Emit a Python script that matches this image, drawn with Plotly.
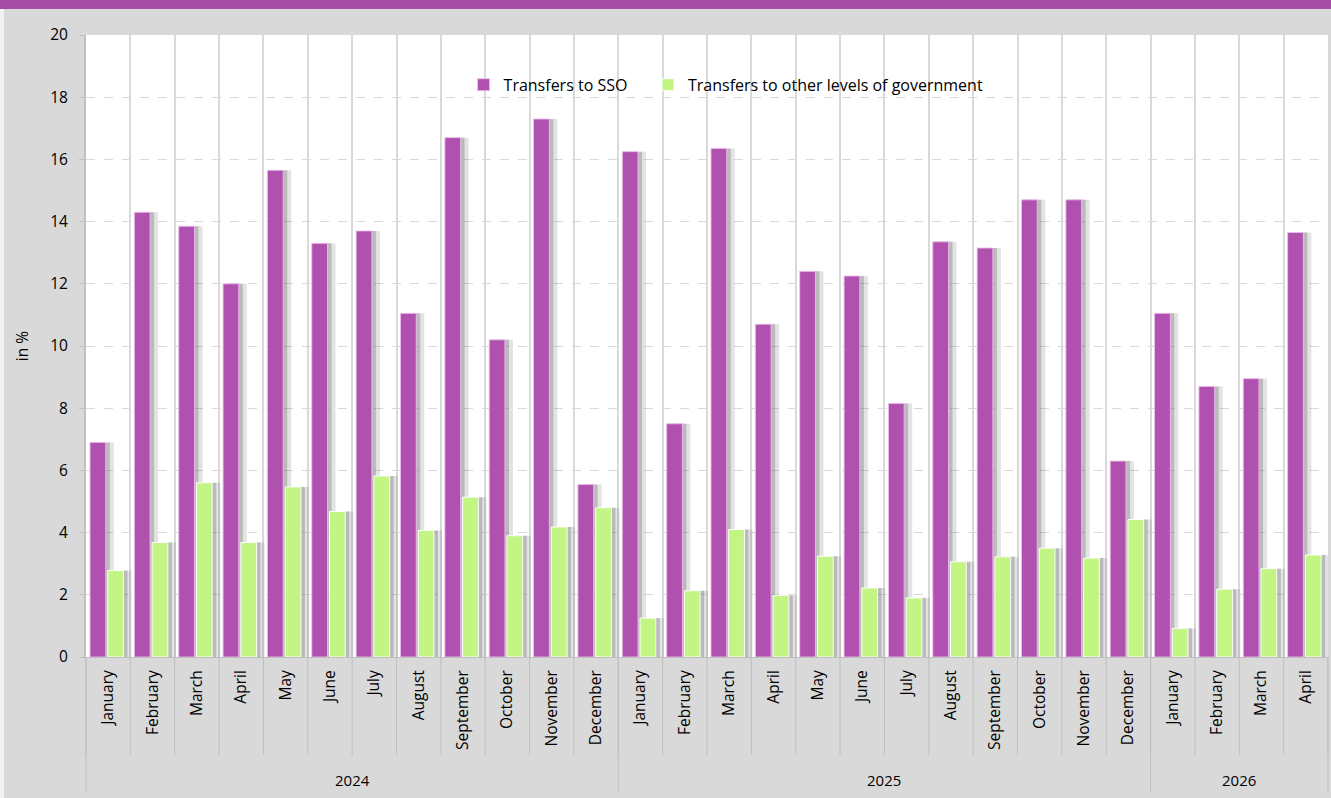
import plotly.graph_objects as go

month_names = ['January', 'February', 'March', 'April', 'May', 'June', 'July',
               'August', 'September', 'October', 'November', 'December']
months = month_names + month_names + month_names[:4]
years = ['2024'] * 12 + ['2025'] * 12 + ['2026'] * 4

transfers_sso = [6.9, 14.3, 13.85, 12.0, 15.65, 13.3, 13.7, 11.05, 16.7, 10.2, 17.3, 5.55,
                 16.25, 7.5, 16.35, 10.7, 12.4, 12.25, 8.15, 13.35, 13.15, 14.7, 14.7, 6.3,
                 11.05, 8.7, 8.95, 13.65]
transfers_other = [2.78, 3.68, 5.6, 3.68, 5.47, 4.68, 5.82, 4.07, 5.14, 3.9, 4.18, 4.8,
                   1.25, 2.13, 4.1, 1.98, 3.24, 2.22, 1.9, 3.06, 3.22, 3.5, 3.18, 4.42,
                   0.92, 2.18, 2.84, 3.28]

# unique category keys, shown with the month name only
cats = ['%s %s' % (m, y) for m, y in zip(months, years)]
n = len(cats)

plot_w = 1242
plot_h = 622
cat_px = plot_w / n
bar_w = 0.355

series = [
    ('Transfers to SSO', transfers_sso, '#b051b0', 'rgba(236,190,236,0.9)', -0.41, 'legend'),
    ('Transfers to other levels of government', transfers_other, '#c3f585',
     'rgba(255,255,255,0.95)', -0.01, 'legend2'),
]

fig = go.Figure()

# soft drop shadows on the right of every bar
for name, vals, color, edge, off, leg in series:
    for shift, alpha in ((8, 0.16), (4, 0.28)):
        fig.add_trace(go.Bar(
            x=cats, y=vals, offset=off + shift / cat_px, width=bar_w,
            marker=dict(color='rgba(80,80,80,%s)' % alpha, line=dict(width=0)),
            showlegend=False, hoverinfo='skip'
        ))

for name, vals, color, edge, off, leg in series:
    fig.add_trace(go.Bar(
        x=cats, y=vals, name=name, offset=off, width=bar_w, legend=leg,
        marker=dict(color=color, line=dict(color=edge, width=1))
    ))

shapes = []
# separators below the axis between months
for i in range(n + 1):
    shapes.append(dict(type='line', xref='paper', yref='paper',
                       x0=i / n, x1=i / n, y0=0, y1=-98 / plot_h,
                       line=dict(color='#bfbfbf', width=1)))
# separators between years
bounds = [0] + [i for i in range(1, n) if years[i] != years[i - 1]] + [n]
for b in bounds:
    shapes.append(dict(type='line', xref='paper', yref='paper',
                       x0=b / n, x1=b / n, y0=0, y1=-135 / plot_h,
                       line=dict(color='#bfbfbf', width=1)))
# purple strip on top, thin light edge on the left
shapes.append(dict(type='rect', xref='paper', yref='paper',
                   x0=-0.08, x1=1.01, y0=(657 - 9) / plot_h, y1=(657 + 2) / plot_h,
                   fillcolor='#a64ca6', line=dict(width=0), layer='above'))
shapes.append(dict(type='rect', xref='paper', yref='paper',
                   x0=-0.08, x1=-82 / plot_w, y0=-0.3, y1=(657 - 9) / plot_h,
                   fillcolor='#f2f2f2', line=dict(width=0)))

# year labels under the month labels
annotations = []
for a, b in zip(bounds[:-1], bounds[1:]):
    annotations.append(dict(
        text=years[a], xref='paper', yref='paper',
        x=(a + b) / 2 / n, y=-123 / plot_h, xanchor='center', yanchor='middle',
        showarrow=False, font=dict(size=15)
    ))

fig.update_layout(
    width=1331, height=798,
    margin=dict(l=86, r=3, t=35, b=141),
    paper_bgcolor='#d9d9d9',
    plot_bgcolor='white',
    barmode='overlay',
    font=dict(family='Open Sans', size=15, color='#000000'),
    legend=dict(
        orientation='h', x=0.304, y=0.92, xanchor='left', yanchor='middle',
        bgcolor='rgba(0,0,0,0)', font=dict(size=16)
    ),
    legend2=dict(
        orientation='h', x=0.4525, y=0.92, xanchor='left', yanchor='middle',
        bgcolor='rgba(0,0,0,0)', font=dict(size=16)
    ),
    xaxis=dict(
        type='category',
        range=[-0.5, n - 0.5],
        tickmode='array', tickvals=cats, ticktext=months,
        tickangle=-90,
        tickfont=dict(size=15.5),
        ticklabelstandoff=6,
        tickson='boundaries',
        showgrid=True, gridcolor='#d9d9d9', gridwidth=2,
        showline=True, linecolor='#bfbfbf', linewidth=1,
        ticks=''
    ),
    yaxis=dict(
        range=[0, 20], dtick=2,
        showgrid=True, gridcolor='#d9d9d9', griddash='dash', gridwidth=1,
        showline=True, linecolor='#bfbfbf', linewidth=2,
        ticks='outside', ticklen=5, tickcolor='#bfbfbf',
        tickfont=dict(size=15.5), ticklabelstandoff=8,
        zeroline=False,
        title=dict(text='in %', font=dict(size=15.5), standoff=18)
    ),
    shapes=shapes,
    annotations=annotations,
    showlegend=True
)

fig.write_html("out.html", config={'displayModeBar': False},
               post_script="document.body.style.margin = '0';")
